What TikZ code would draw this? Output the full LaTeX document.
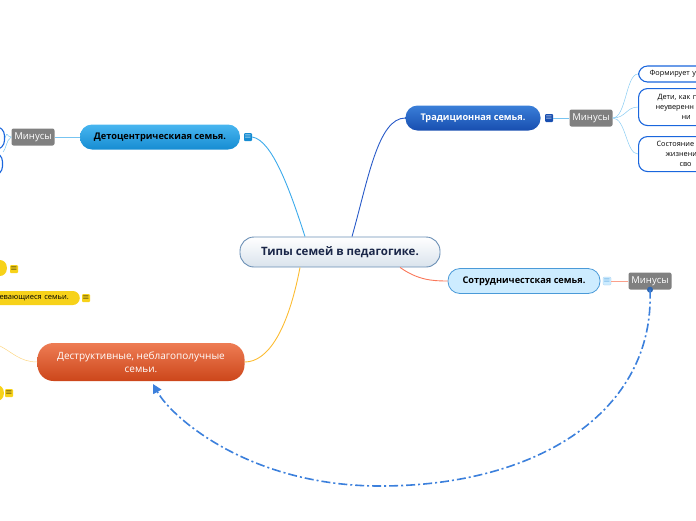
\documentclass[tikz,border=0pt]{standalone}
\usepackage{fontspec}
\setmainfont{Open Sans}
\usepackage{tikz}
\usetikzlibrary{arrows.meta}
\definecolor{rootB}{RGB}{106,143,181}
\definecolor{rootT}{RGB}{26,38,72}
\definecolor{tradT}{RGB}{58,127,216}
\definecolor{tradB}{RGB}{24,78,176}
\definecolor{detT}{RGB}{72,182,240}
\definecolor{detB}{RGB}{22,140,210}
\definecolor{sotrF}{RGB}{205,236,255}
\definecolor{sotrD}{RGB}{74,154,216}
\definecolor{destT}{RGB}{238,124,84}
\definecolor{destB}{RGB}{204,70,26}
\definecolor{minusF}{RGB}{128,128,128}
\definecolor{leafD}{RGB}{26,102,221}
\definecolor{yelF}{RGB}{247,210,26}
\definecolor{lnTrad}{RGB}{40,90,200}
\definecolor{lnDet}{RGB}{60,170,235}
\definecolor{lnSotr}{RGB}{250,120,90}
\definecolor{lnDest}{RGB}{252,188,50}
\definecolor{lnRel}{RGB}{60,128,220}

\begin{document}
\begin{tikzpicture}[x=1pt, y=-1pt,
  root/.style={draw=rootB, line width=0.9pt, rounded corners=14pt, top color=white, bottom color=rootB!25,
    minimum width=200pt, minimum height=30pt, text=rootT, font=\fontsize{11.5}{13}\selectfont\bfseries},
  topic/.style={rounded corners=12pt, minimum height=25pt, inner sep=0pt, font=\fontsize{9.2}{12}\selectfont\bfseries},
  minus/.style={fill=minusF, text=white, rounded corners=2pt, minimum width=43pt, minimum height=17pt,
    inner sep=0pt, font=\fontsize{9.5}{11}\selectfont},
  leaf/.style={draw=leafD, line width=1.1pt, fill=white, rounded corners=9pt, inner xsep=3pt,
    text width=84pt, align=left, anchor=north west, font=\fontsize{7.3}{9.8}\selectfont},
  ybox/.style={fill=yelF, rounded corners=7pt, inner sep=0pt, font=\fontsize{7.5}{9}\selectfont},
  icon/.style={minimum size=8pt, inner sep=0pt, rounded corners=1pt, font=\fontsize{8}{8}\selectfont},
  sub/.style={line width=0.5pt}]
\useasboundingbox (0,0) rectangle (696,520);
\clip (0,0) rectangle (696,520);
% central topic and main branches
\node[root] (c) at (340,252) {Типы семей в педагогике.};
\node[topic, top color=tradT, bottom color=tradB, text=white, minimum width=135pt] (trad) at (473,118) {Традиционная семья.};
\node[topic, top color=detT, bottom color=detB, text=black, minimum width=160pt] (det) at (160,137) {Детоцентрическиая семья.};
\node[topic, fill=sotrF, draw=sotrD, line width=0.8pt, text=black, minimum width=152pt] (sotr) at (524,281) {Сотрудничестская семья.};
\node[topic, top color=destT, bottom color=destB, text=white, minimum width=207pt, minimum height=38pt,
  rounded corners=16pt, align=center, font=\fontsize{10}{13}\selectfont] (dest) at (141,362) {Деструктивные, неблагополучные\\семьи.};
% note icons
\node[icon, fill=tradB, text=white] (itrad) at (549,118) {$\equiv$};
\node[icon, fill=detB, text=white] (idet) at (248,137) {$\equiv$};
\node[icon, fill=sotrF, draw=sotrD!50, line width=0.3pt, text=sotrD] (isotr) at (607,281) {$\equiv$};
% "minus" nodes
\node[minus] (mtrad) at (591,118) {Минусы};
\node[minus] (mdet) at (33,137) {Минусы};
\node[minus] (msotr) at (650,281) {Минусы};
% leaves of the traditional family (cut by the border)
\node[leaf, minimum height=16pt, inner ysep=2pt, anchor=west] (t1) at (638,74) {\hspace*{8pt}Формирует у};
\node[leaf, minimum height=37pt] (t2) at (638,88) {\hspace*{16pt}Дети, как п\\\hspace*{14pt}неуверенн\\\hspace*{40pt}ни};
\node[leaf, minimum height=35pt] (t3) at (638,136) {\hspace*{15pt}Состояние\\\hspace*{24pt}жизнени\\\hspace*{38pt}сво};
% leaves of the child-centred family (cut by the border)
\node[leaf, anchor=east, text width=50pt, minimum height=23pt] (d1) at (5,138) {};
\node[leaf, anchor=east, text width=50pt, minimum height=23pt] (d2) at (3,164) {};
% yellow leaves of the destructive family (cut by the border)
\node[ybox, anchor=east, minimum width=60pt, minimum height=16pt] (y1) at (7,268) {};
\node[ybox, anchor=east, minimum width=120pt, minimum height=14pt, text width=120pt, align=right] (y2) at (80,298) {евающиеся семьи.\hspace*{11pt}\mbox{}};
\node[ybox, anchor=east, minimum width=60pt, minimum height=16pt] (y3) at (4,393) {};
\node[icon, fill=yelF, text=black] (iy1) at (14,269) {$\equiv$};
\node[icon, fill=yelF, text=black] (iy2) at (86,298) {$\equiv$};
\node[icon, fill=yelF, text=black] (iy3) at (9,393) {$\equiv$};
\coordinate (yout) at (0,346);
% branch connectors
\draw[lnTrad, line width=0.9pt] (c.north -| 352,0) .. controls (368,180) and (378,118) .. (trad.west);
\draw[lnDet, line width=0.9pt] (c.north -| 305,0) .. controls (290,190) and (272,140) .. (idet.east);
\draw[lnSotr, line width=0.9pt] (c.south -| 400,0) .. controls (418,280) and (432,281) .. (sotr.west);
\draw[lnDest, line width=0.9pt] (c.south -| 300,0) .. controls (288,330) and (268,362) .. (dest.east);
\draw[lnDest!60, sub] (dest.west) .. controls (20,362) and (12,352) .. (yout);
\draw[lnDet!70, sub] (itrad) -- (mtrad);
\draw[lnDet!70, sub] (det.west) -- (mdet);
\draw[lnSotr!70, sub] (isotr) -- (msotr);
\foreach \t in {t1,t2,t3}
  \draw[lnDet!60, sub] (mtrad.east) .. controls (626,118) and (626,0 |- \t.west) .. (\t.west);
\draw[lnDet!70, sub] (mdet.west) .. controls (6,137) and (8,130) .. (d1.east);
\draw[lnDet!70, sub] (mdet.west) .. controls (6,140) and (6,150) .. (d2.north east);
% relation from the minus of cooperation to the destructive family
\fill[lnRel!80!black] (msotr.south) circle (3pt);
\draw[lnRel, line width=1.6pt, dash pattern=on 9pt off 3pt on 2pt off 3pt, -{Triangle[length=9pt, width=9pt]}]
  (msotr.south) .. controls (655,410) and (540,486) .. (380,486)
  .. controls (250,486) and (172,418) .. (153,384);
\end{tikzpicture}
\end{document}
